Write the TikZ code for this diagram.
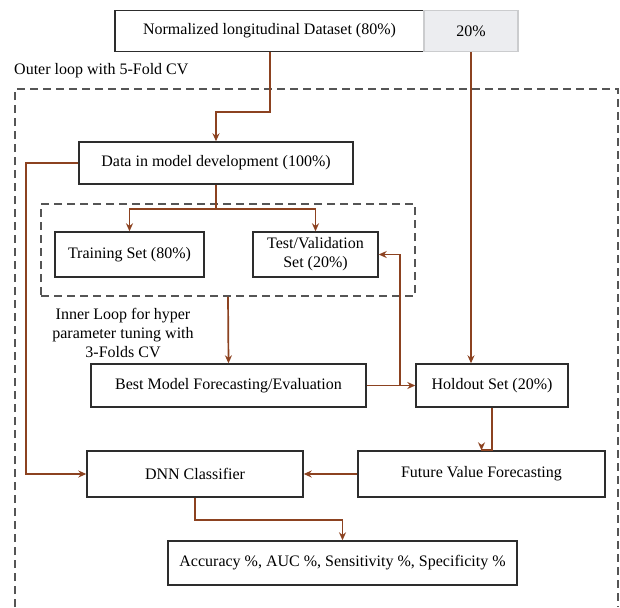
\documentclass[tikz,border=0pt]{standalone}
\usepackage{fontspec}
\setmainfont{Liberation Serif}
\usetikzlibrary{arrows.meta,calc}
\definecolor{arrc}{RGB}{140,66,32}
\definecolor{boxc}{RGB}{45,45,45}
\definecolor{dashc}{RGB}{85,85,85}
\definecolor{pctfill}{RGB}{236,237,240}
\tikzset{
  box/.style={draw=boxc, line width=1.4pt, rectangle, inner sep=0pt, align=center, font=\fontsize{16}{19}\selectfont},
  arr/.style={draw=arrc, line width=1.7pt, -{Stealth[length=8pt,width=7pt]}},
  ln/.style={draw=arrc, line width=1.7pt},
  dbox/.style={draw=dashc, line width=1.5pt, dash pattern=on 8pt off 5pt},
  lab/.style={align=center, font=\fontsize{16}{19}\selectfont, inner sep=0pt}
}
\begin{document}
\begin{tikzpicture}[x=1pt,y=-1pt]
\useasboundingbox (0,0) rectangle (620,607);
% outer dashed (open at bottom)
\draw[dbox] (15,607) -- (15,89) -- (618,89) -- (618,607);
\node[lab, anchor=west] (outerlab) at (14,71) {Outer loop with 5-Fold CV};
% inner dashed
\node[dbox, rectangle, minimum width=374pt, minimum height=92pt, inner sep=0pt] (inner) at (228,250) {};
\node[lab] (innerlab) at (123,333) {Inner Loop for hyper\\parameter tuning with\\3-Folds CV};
% boxes
\node[box, minimum width=309pt, minimum height=41pt] (top) at (269.5,31) {Normalized longitudinal Dataset (80\%)};
\node[box, fill=pctfill, draw=pctfill!70!gray, minimum width=94pt, minimum height=41pt] (pct) at (471,31) {20\%};
\node[box, minimum width=274pt, minimum height=42pt] (data) at (216,163) {Data in model development (100\%)};
\node[box, minimum width=149pt, minimum height=45pt] (train) at (129.5,254.5) {Training Set (80\%)};
\node[box, minimum width=125pt, minimum height=45pt] (test) at (315.5,254.5) {Test/Validation\\Set (20\%)};
\node[box, minimum width=275pt, minimum height=43pt] (best) at (228.5,385.5) {Best Model Forecasting/Evaluation};
\node[box, minimum width=152pt, minimum height=43pt] (hold) at (492,385.5) {Holdout Set (20\%)};
\node[box, minimum width=216pt, minimum height=46pt] (dnn) at (195,474) {DNN Classifier};
\node[box, minimum width=247pt, minimum height=46pt] (fut) at (481.5,474) {Future Value Forecasting};
\node[box, minimum width=349pt, minimum height=44pt] (acc) at (342.5,563) {Accuracy \%, AUC \%, Sensitivity \%, Specificity \%};
% junction coordinates
\coordinate (j1) at (270,112);
\coordinate (j2) at (216,209);
\coordinate (j3) at (400,385.5);
\coordinate (j4) at (26,163);
% connectors
\draw[arr] (top.south -| j1) -- (j1) -| (data.north);
\draw[ln] (data.south) -- (j2);
\draw[arr] (j2) -| (train.north);
\draw[arr] (j2) -| (test.north);
\draw[arr] (data.west) -- (j4) |- (dnn.west);
\draw[arr] (inner.south) -- (best.north);
\draw[arr] (best.east) -- (hold.west);
\draw[arr] (j3) |- (test.east);
\draw[arr] (pct.south) -- (pct.south |- hold.north);
\draw[arr] (hold.south) -- ++(0,42.5) -| (fut.north);
\draw[arr] (fut.west) -- (dnn.east);
\draw[arr] (dnn.south) -- ++(0,22) -| (acc.north);
\end{tikzpicture}
\end{document}
